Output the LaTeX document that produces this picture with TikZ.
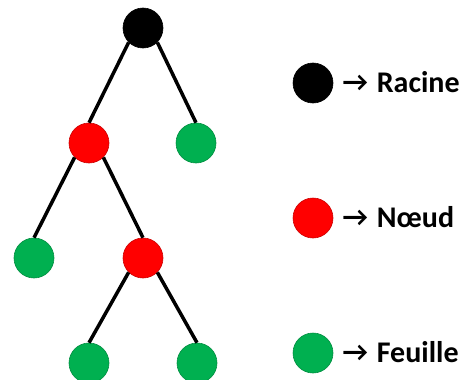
\documentclass[tikz,border=0pt]{standalone}
\usepackage{fontspec}
\setmainfont{Carlito}
\usetikzlibrary{positioning}

\definecolor{racine}{HTML}{000000}
\definecolor{noeud}{HTML}{FF0000}
\definecolor{feuille}{HTML}{00B050}

\newcommand{\fleche}{\raisebox{1pt}{\fontsize{28pt}{28pt}\selectfont →}\hspace{9pt}}

\tikzset{pastille/.style={
    	circle, minimum size=40pt, inner sep=0pt, line width=0.6pt,
    	fill=#1, draw=#1!80!black
  	},
  	legende/.style={
  		inner sep=0pt, anchor=west, text height=18pt, text depth=0pt,
  		font=\fontsize{30pt}{32pt}\selectfont\bfseries
  	},
  	branche/.style={black, line width=3.5pt}
}

\begin{document}
\begin{tikzpicture}[x=1pt, y=-1pt]
	\useasboundingbox (0,0) rectangle (461,380);
	% arbre
	\node [pastille=racine] (r) at (143,28) {};
	\node [pastille=noeud] (n1) at (89,143) {};
	\node [pastille=feuille] (f1) at (196,143) {};
	\node [pastille=feuille] (f2) at (34,258) {};
	\node [pastille=noeud] (n2) at (143,258) {};
	\node [pastille=feuille] (f3) at (89,363) {};
	\node [pastille=feuille] (f4) at (197,363) {};
	\draw [branche] (r.south west) -- (n1.north);
	\draw [branche] (r.south east) -- (f1.north);
	\draw [branche] (n1.south west) -- (f2.north);
	\draw [branche] (n1.south east) -- (n2.north);
	\draw [branche] (n2.south west) -- (f3.north);
	\draw [branche] (n2.south east) -- (f4.north);
	% legende
	\node [pastille=racine] (lr) at (313,83) {};
	\node [pastille=noeud] (ln) at (313,218) {};
	\node [pastille=feuille] (lf) at (313,353) {};
	\node [legende, right=9pt of lr] (tr) {\fleche Racine};
	\node [legende, right=9pt of ln] (tn) {\fleche Nœud};
	\node [legende, right=9pt of lf] (tf) {\fleche Feuille};
\end{tikzpicture}
\end{document}
